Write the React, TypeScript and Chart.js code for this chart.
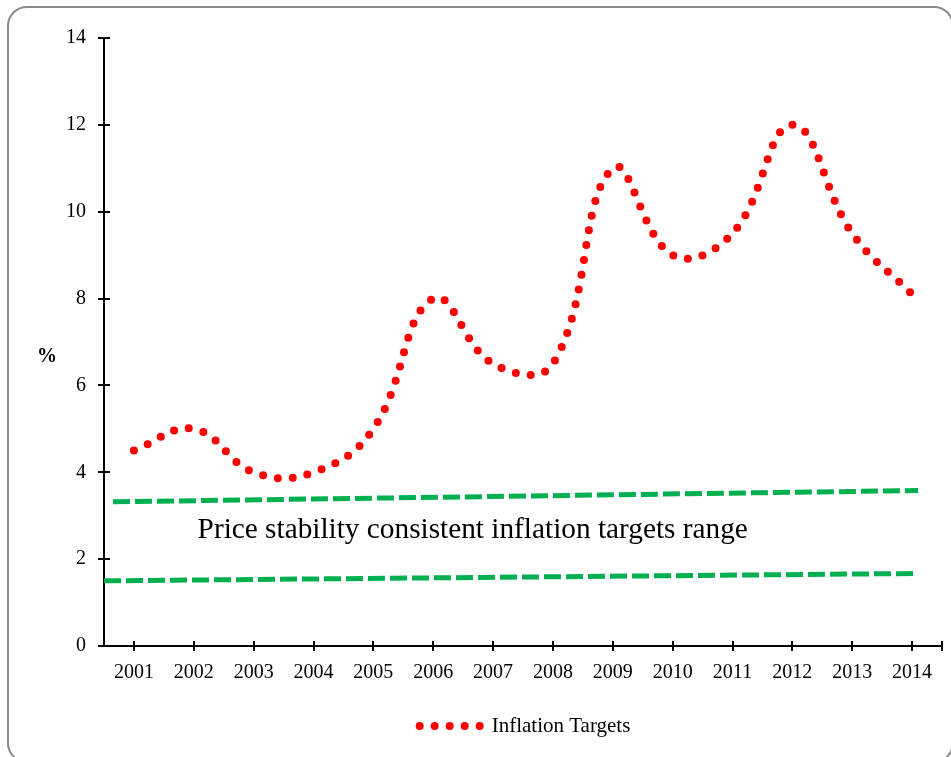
import React, { useEffect, useRef } from "react";
import { Chart, registerables } from "chart.js";

Chart.register(...registerables);

// ---- data ----
const years = [2001, 2002, 2003, 2004, 2005, 2006, 2007, 2008, 2009, 2010, 2011, 2012, 2013, 2014];
const inflationTargets = [4.5, 5.0, 4.0, 4.0, 5.0, 8.0, 6.5, 6.5, 11.0, 9.0, 9.5, 12.0, 9.5, 8.1];

const upperBandX = [2000.65, 2014.1];
const upperBandY = [3.32, 3.58];
const lowerBandX = [2000.5, 2014.1];
const lowerBandY = [1.5, 1.67];

const yTicks = [0, 2, 4, 6, 8, 10, 12, 14];
const xAxisMin = 2000.5;
const xAxisMax = 2014.5;

const legendLabel = "Inflation Targets";
const yAxisLabel = "%";
const annotationText = "Price stability consistent inflation targets range";
const annotationAt = [2006.66, 2.49];
const yLabelAt = 6.65;

const SERIF = '"Liberation Serif", "Times New Roman", serif';
const RED = "#FF0000";
const GREEN = "#00B050";

const decorPlugin = {
  id: "decor",
  afterDraw(chart: any) {
    const { ctx, chartArea, scales } = chart;
    const x = scales.x;
    const y = scales.y;
    ctx.save();
    // cross tick marks
    ctx.strokeStyle = "#000";
    ctx.lineWidth = 2;
    for (const v of yTicks) {
      const py = Math.round(y.getPixelForValue(v));
      ctx.beginPath();
      ctx.moveTo(chartArea.left - 6, py);
      ctx.lineTo(chartArea.left + 6, py);
      ctx.stroke();
    }
    for (const v of [...years, xAxisMax]) {
      const px = Math.round(x.getPixelForValue(v));
      ctx.beginPath();
      ctx.moveTo(px, chartArea.bottom - 5);
      ctx.lineTo(px, chartArea.bottom + 5);
      ctx.stroke();
    }
    // annotation text
    ctx.fillStyle = "#000";
    ctx.font = `29.3px ${SERIF}`;
    ctx.textAlign = "center";
    ctx.textBaseline = "alphabetic";
    ctx.fillText(annotationText, x.getPixelForValue(annotationAt[0]), y.getPixelForValue(annotationAt[1]));
    // y axis label
    ctx.font = `bold 20px ${SERIF}`;
    ctx.textBaseline = "middle";
    ctx.fillText(yAxisLabel, 47, y.getPixelForValue(yLabelAt));
    // legend
    ctx.font = `21px ${SERIF}`;
    const tw = ctx.measureText(legendLabel).width;
    const sampleW = 68;
    const gap = 8;
    const total = sampleW + gap + tw;
    const cx = (chartArea.left + chartArea.right) / 2;
    const startX = cx - total / 2;
    const ly = 726;
    ctx.fillStyle = RED;
    for (let i = 0; i < 5; i++) {
      ctx.beginPath();
      ctx.arc(startX + 4 + i * 15, ly, 4, 0, Math.PI * 2);
      ctx.fill();
    }
    ctx.fillStyle = "#000";
    ctx.textAlign = "left";
    ctx.textBaseline = "alphabetic";
    ctx.fillText(legendLabel, startX + sampleW + gap, ly + 6);
    ctx.restore();
  },
};

export default function App() {
  const ref = useRef<HTMLCanvasElement | null>(null);
  useEffect(() => {
    if (!ref.current) return;
    const chart = new Chart(ref.current, {
      type: "line",
      data: {
        datasets: [
          {
            label: legendLabel,
            data: years.map((yr, i) => ({ x: yr, y: inflationTargets[i] })),
            borderColor: RED,
            backgroundColor: RED,
            borderWidth: 8,
            borderDash: [0, 15],
            borderCapStyle: "round",
            pointRadius: 0,
            tension: 0.42,
            fill: false,
          },
          {
            label: "upper",
            data: upperBandX.map((xv, i) => ({ x: xv, y: upperBandY[i] })),
            borderColor: GREEN,
            borderWidth: 5,
            borderDash: [17, 5],
            pointRadius: 0,
            tension: 0,
            fill: false,
          },
          {
            label: "lower",
            data: lowerBandX.map((xv, i) => ({ x: xv, y: lowerBandY[i] })),
            borderColor: GREEN,
            borderWidth: 5,
            borderDash: [17, 5],
            pointRadius: 0,
            tension: 0,
            fill: false,
          },
        ],
      },
      options: {
        animation: false,
        responsive: false,
        devicePixelRatio: 1,
        layout: { padding: { top: 38, right: 9, bottom: 61, left: 0 } },
        plugins: { legend: { display: false }, tooltip: { enabled: false } },
        scales: {
          x: {
            type: "linear",
            min: xAxisMin,
            max: xAxisMax,
            afterBuildTicks: (s: any) => {
              s.ticks = years.map((v) => ({ value: v }));
            },
            afterFit: (s: any) => {
              s.height = 50;
            },
            ticks: {
              callback: (v: any) => String(v),
              font: { family: SERIF, size: 20 },
              color: "#000",
              padding: 15,
              autoSkip: false,
              maxRotation: 0,
            },
            grid: { display: false, drawTicks: false },
            border: { display: true, color: "#000", width: 2 },
          },
          y: {
            min: 0,
            max: 14,
            afterBuildTicks: (s: any) => {
              s.ticks = yTicks.map((v) => ({ value: v }));
            },
            afterFit: (s: any) => {
              s.width = 104;
            },
            ticks: {
              font: { family: SERIF, size: 20 },
              color: "#000",
              padding: 18,
            },
            grid: { display: false, drawTicks: false },
            border: { display: true, color: "#000", width: 2 },
          },
        },
      },
      plugins: [decorPlugin],
    } as any);
    return () => chart.destroy();
  }, []);

  return (
    <div style={{ position: "fixed", left: 0, top: 0, width: 951, height: 757, overflow: "hidden", background: "#fff" }}>
      <div
        style={{
          position: "absolute",
          left: 7,
          top: 6,
          width: 947,
          height: 757,
          border: "2px solid #8a8a8a",
          borderRadius: 20,
          boxSizing: "border-box",
        }}
      />
      <canvas ref={ref} width={951} height={757} style={{ position: "absolute", left: 0, top: 0, width: 951, height: 757 }} />
    </div>
  );
}
